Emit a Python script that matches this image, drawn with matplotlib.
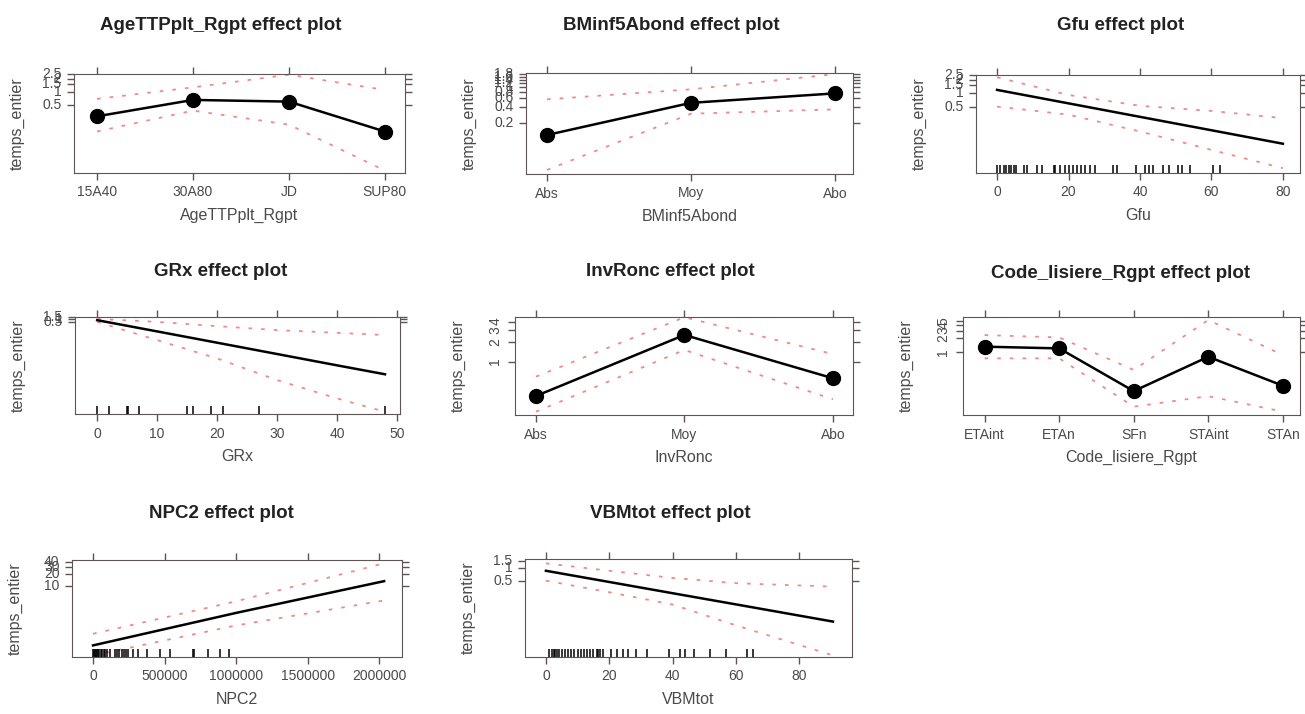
import matplotlib
matplotlib.use('Agg')
import matplotlib.pyplot as plt

plt.rcParams['font.family'] = ['Liberation Sans', 'DejaVu Sans']

W, H = 1305, 714
BOX = '#5e5454'
TXT = '#4a4a4a'
CI = '#f08a8a'

# --- data (response scale) ---
age_cats = ['15A40', '30A80', 'JD', 'SUP80']
age_fit = [0.274, 0.65, 0.595, 0.123]
age_lo = [0.123, 0.37, 0.177, 0.0157]
age_hi = [0.686, 1.26, 2.46, 1.10]

bm_cats = ['Abs', 'Moy', 'Abo']
bm_fit = [0.115, 0.49, 0.75]
bm_lo = [0.0238, 0.30, 0.365]
bm_hi = [0.574, 0.90, 1.79]

gfu_x = [0, 20, 40, 60, 80]
gfu_fit = [1.18, 0.59, 0.295, 0.148, 0.074]
gfu_lo = [0.5, 0.33, 0.139, 0.054, 0.021]
gfu_hi = [2.26, 0.91, 0.52, 0.40, 0.276]
gfu_rug = [0, 0.8, 1.8, 2.5, 3.2, 3.8, 4.6, 5.3, 7.4, 8.3, 11.1, 12.5, 16, 16.3,
           17.6, 19, 20.2, 21.2, 22.3, 23.4, 24.6, 26, 27.4, 32.5, 33.5, 39,
           41.4, 42.6, 43.7, 46.5, 48.2, 50.7, 51.9, 54, 60.5, 62.4]

grx_x = [0, 10, 20, 30, 40, 48]
grx_fit = [0.74, 0.054, 0.0039, 2.8e-4, 2.0e-5, 2.5e-6]
grx_lo = [0.5, 0.0071, 1.0e-4, 6.5e-7, 9e-9, 4e-10]
grx_hi = [1.0, 0.5, 0.185, 0.073, 0.039, 0.023]
grx_rug = [0, 2, 5, 5.2, 7, 15, 16, 19, 21, 27, 48]

inv_cats = ['Abs', 'Moy', 'Abo']
inv_fit = [0.305, 2.52, 0.563]
inv_lo = [0.177, 1.5, 0.272]
inv_hi = [0.595, 4.65, 1.3]

code_cats = ['ETAint', 'ETAn', 'SFn', 'STAint', 'STAn']
code_fit = [1.3, 1.19, 0.13, 0.77, 0.172]
code_lo = [0.71, 0.71, 0.058, 0.1, 0.045]
code_hi = [2.37, 2.1, 0.39, 5.17, 0.84]

npc_x = [0, 1000000, 2035000]
npc_fit = [0.28, 1.95, 13]
npc_lo = [0.154, 0.92, 4.1]
npc_hi = [0.56, 3.9, 37.8]
npc_rug = [0, 8000, 15000, 22000, 30000, 38000, 45000, 55000, 65000, 75000, 84000,
           100000, 120000, 155000, 170000, 185000, 200000, 215000, 230000, 245000,
           280000, 315000, 375000, 469000, 538000, 700000, 708000, 806000, 888000, 953000]

vbm_x = [0, 20, 40, 60, 90.6]
vbm_fit = [0.86, 0.465, 0.251, 0.136, 0.053]
vbm_lo = [0.5, 0.265, 0.135, 0.043, 0.0083]
vbm_hi = [1.29, 0.86, 0.58, 0.435, 0.36]
vbm_rug = [1, 2, 2.6, 3, 3.5, 4, 5, 6, 7, 8, 9, 10, 11, 12, 13, 14, 15, 16, 16.5,
           17, 18, 20.5, 22.3, 24.4, 25.8, 28.3, 32, 39, 42.3, 43.8, 46.8, 51.8,
           56.8, 63.6, 65.5]


fig = plt.figure(figsize=(W / 100, H / 100), dpi=100)


def make_ax(l, r, t, b):
    return fig.add_axes([l / W, 1 - b / H, (r - l) / W, (b - t) / H])


def style(ax, xlabel, xlim, ylim, yticks, rot=0):
    ax.set_yscale('log')
    ax.set_xlim(xlim)
    ax.set_ylim(ylim)
    ax.minorticks_off()
    ax.set_yticks(yticks)
    ax.set_yticklabels(['%g' % v for v in yticks], rotation=rot, va='center')
    ax.tick_params(direction='out', length=5, width=1, color=BOX, labelcolor=TXT,
                   labelsize=10, top=True, right=True, pad=4)
    for s in ax.spines.values():
        s.set_color(BOX)
    ax.set_xlabel(xlabel, fontsize=11.5, color=TXT, labelpad=6)
    ax.set_ylabel('temps_entier', fontsize=11.5, color=TXT)
    w = ax.get_position().width * W
    ax.yaxis.set_label_coords(-49 / w, 0.5)


def factor_panel(ax, cats, fit, lo, hi):
    x = list(range(len(cats)))
    ax.plot(x, hi, color=CI, lw=1.3, ls=(0, (2, 5)))
    ax.plot(x, lo, color=CI, lw=1.3, ls=(0, (2, 5)))
    ax.plot(x, fit, color='black', lw=1.8, marker='o', ms=10)
    ax.set_xticks(x)
    ax.set_xticklabels(cats)


def cont_panel(ax, x, fit, lo, hi, rug, xticks):
    ax.plot(x, hi, color=CI, lw=1.3, ls=(0, (2, 5)))
    ax.plot(x, lo, color=CI, lw=1.3, ls=(0, (2, 5)))
    ax.plot(x, fit, color='black', lw=1.8)
    ax.vlines(rug, 0, 0.085, transform=ax.get_xaxis_transform(), color='black', lw=1.1)
    ax.set_xticks(xticks)
    ax.set_xticklabels(['%d' % v for v in xticks])


ax = make_ax(74, 405, 74, 173)
factor_panel(ax, age_cats, age_fit, age_lo, age_hi)
style(ax, 'AgeTTPplt_Rgpt', (-0.24, 3.21), (0.0138, 2.55), [0.5, 1, 1.5, 2, 2.5])

ax = make_ax(526, 853, 73, 174)
factor_panel(ax, bm_cats, bm_fit, bm_lo, bm_hi)
style(ax, 'BMinf5Abond', (-0.146, 2.125), (0.0198, 1.88),
      [0.2, 0.4, 0.6, 0.8, 1, 1.2, 1.4, 1.6, 1.8])

ax = make_ax(976, 1300, 75, 173)
cont_panel(ax, gfu_x, gfu_fit, gfu_lo, gfu_hi, gfu_rug, [0, 20, 40, 60, 80])
style(ax, 'Gfu', (-5.9, 84.8), (0.0164, 2.54), [0.5, 1, 1.5, 2, 2.5])

ax = make_ax(75, 400, 317, 414)
cont_panel(ax, grx_x, grx_fit, grx_lo, grx_hi, grx_rug, [0, 10, 20, 30, 40, 50])
style(ax, 'GRx', (-3.7, 50.5), (2.4e-10, 1.55), [0.5, 1, 1.5])

ax = make_ax(515, 853, 317, 415)
factor_panel(ax, inv_cats, inv_fit, inv_lo, inv_hi)
style(ax, 'InvRonc', (-0.141, 2.135), (0.158, 4.69), [1, 2, 3, 4], rot=90)

ax = make_ax(963, 1300, 317, 415)
factor_panel(ax, code_cats, code_fit, code_lo, code_hi)
style(ax, 'Code_lisiere_Rgpt', (-0.29, 4.23), (0.0377, 6.05), [1, 2, 3, 4, 5], rot=90)

ax = make_ax(72, 402, 560, 657)
cont_panel(ax, npc_x, npc_fit, npc_lo, npc_hi, npc_rug,
           [0, 500000, 1000000, 1500000, 2000000])
style(ax, 'NPC2', (-147000, 2160000), (0.14, 46), [10, 20, 30, 40])

ax = make_ax(525, 852, 559, 657)
cont_panel(ax, vbm_x, vbm_fit, vbm_lo, vbm_hi, vbm_rug, [0, 20, 40, 60, 80])
style(ax, 'VBMtot', (-6.6, 96.6), (0.0076, 1.64), [0.5, 1, 1.5])

titles = [('AgeTTPplt_Rgpt effect plot', 221, 26), ('BMinf5Abond effect plot', 671, 26),
          ('Gfu effect plot', 1121, 26), ('GRx effect plot', 221, 272),
          ('InvRonc effect plot', 670, 272), ('Code_lisiere_Rgpt effect plot', 1121, 273),
          ('NPC2 effect plot', 221, 513), ('VBMtot effect plot', 670, 514)]
for t, x, y in titles:
    fig.text(x / W, 1 - y / H, t, ha='center', va='center', fontsize=13.5,
             fontweight='bold', color='#222222')

fig.savefig('out.png', dpi=100)
